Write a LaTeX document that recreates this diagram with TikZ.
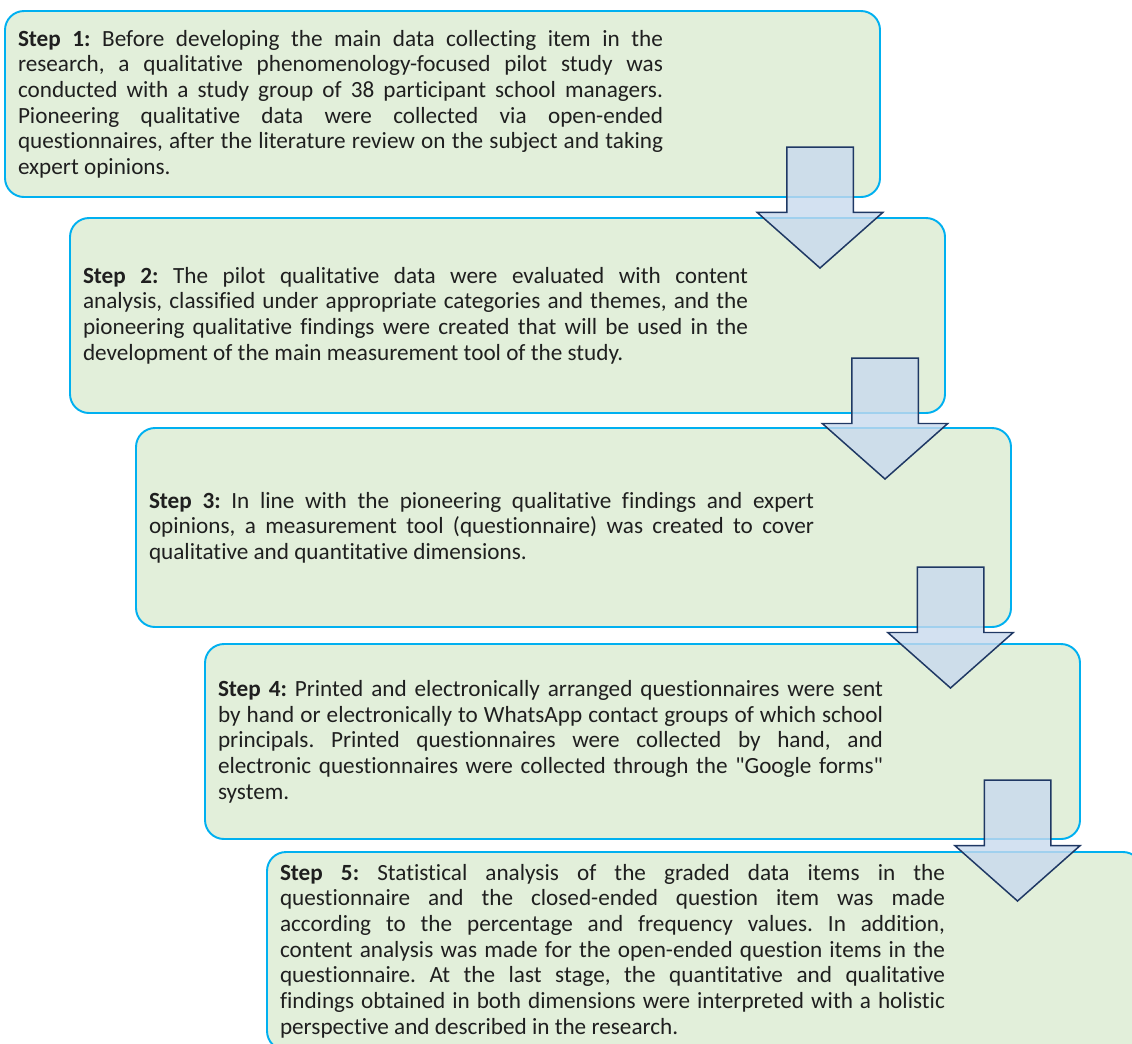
\documentclass[tikz,border=0pt]{standalone}
\usepackage{fontspec}
\setmainfont{Carlito}[Ligatures={TeXOff,NoCommon}]
\usepackage{tikz}
\usetikzlibrary{positioning, shapes.arrows}

\definecolor{stepblue}{RGB}{0,176,240}
\definecolor{stepgreen}{RGB}{226,239,218}
\definecolor{arrownavy}{RGB}{31,56,100}
\definecolor{arrowfill}{RGB}{200,217,238}

\frenchspacing

\tikzset{
    stepbox/.style={
        draw=stepblue,
        fill=stepgreen,
        line width=1.1pt,
        rounded corners=0.38cm,
        anchor=north west,
        outer sep=0pt,
        minimum width=17.5cm,
        text width=16.98cm,
        inner xsep=0.26cm,
        align=justify,
        text=black!88,
        font=\fontsize{13.2}{14.6}\selectfont,
        execute at begin node={\rightskip=#1\relax}
    },
    stepbox/.default=3.68cm,
    downarrow/.style={
        draw=arrownavy,
        fill=arrowfill,
        fill opacity=0.8,
        line width=0.85pt,
        shape=single arrow,
        rotate=-90,
        single arrow head extend=0.59cm,
        single arrow tip angle=97,
        minimum height=2.42cm,
        inner xsep=0pt,
        inner ysep=0.65cm,
        outer sep=0pt
    }
}

\begin{document}
\begin{tikzpicture}

\useasboundingbox (0,0) rectangle (22.64,-20.86);

\node [stepbox=4.08cm,
    minimum height=3.72cm
] (step1) at (0.10,-0.22) {\textbf{Step 1:} Before developing the main data collecting item in the\linebreak
research, a qualitative phenomenology-focused pilot study was\linebreak
conducted with a study group of 38 participant school managers.\linebreak
Pioneering qualitative data were collected via open-ended\linebreak
questionnaires, after the literature review on the subject and taking\linebreak
expert opinions.};

\node [stepbox,
    minimum height=3.90cm,
    below right=0.42cm and -16.2cm of step1
] (step2) {\textbf{Step 2:} The pilot qualitative data were evaluated with content\linebreak
analysis, classified under appropriate categories and themes, and the\linebreak
pioneering qualitative findings were created that will be used in the\linebreak
development of the main measurement tool of the study.};

\node [stepbox,
    minimum height=3.98cm,
    below right=0.30cm and -16.18cm of step2
] (step3) {\textbf{Step 3:} In line with the pioneering qualitative findings and expert\linebreak
opinions, a measurement tool (questionnaire) was created to cover\linebreak
qualitative and quantitative dimensions.};

\node [stepbox,
    minimum height=3.90cm,
    below right=0.34cm and -16.12cm of step3
] (step4) {\textbf{Step 4:} Printed and electronically arranged questionnaires were sent\linebreak
by hand or electronically to WhatsApp contact groups of which school\linebreak
principals. Printed questionnaires were collected by hand, and\linebreak
electronic questionnaires were collected through the "Google forms"\linebreak
system.};

\node [stepbox,
    minimum height=3.96cm,
    below right=0.26cm and -16.26cm of step4
] (step5) {\textbf{Step 5:} Statistical analysis of the graded data items in the\linebreak
questionnaire and the closed-ended question item was made\linebreak
according to the percentage and frequency values. In addition,\linebreak
content analysis was made for the open-ended question items in the\linebreak
questionnaire. At the last stage, the quantitative and qualitative\linebreak
findings obtained in both dimensions were interpreted with a holistic\linebreak
perspective and described in the research.};

% arrows between the steps
\node [downarrow,
    above left=1.0cm and 1.2cm of step1.south east,
    anchor=tail
] (arrow1) {};

\node [downarrow,
    above left=1.1cm and 1.2cm of step2.south east,
    anchor=tail
] (arrow2) {};

\node [downarrow,
    above left=1.2cm and 1.21cm of step3.south east,
    anchor=tail
] (arrow3) {};

\node [downarrow,
    above left=1.18cm and 1.25cm of step4.south east,
    anchor=tail
] (arrow4) {};

\end{tikzpicture}
\end{document}
